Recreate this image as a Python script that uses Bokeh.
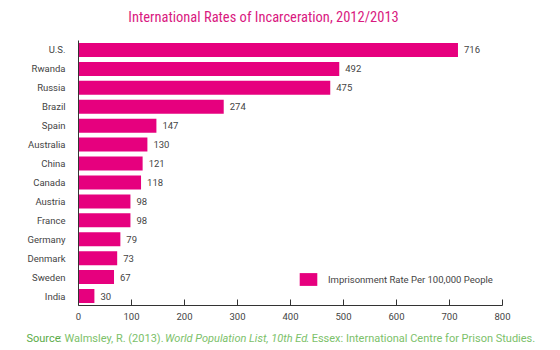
from bokeh.plotting import figure
from bokeh.layouts import column
from bokeh.models import Range1d, FixedTicker, Label, ColumnDataSource, Legend, LegendItem
from bokeh.core.properties import value
from bokeh.embed import file_html
from bokeh.resources import INLINE

countries = ["U.S.", "Rwanda", "Russia", "Brazil", "Spain", "Australia", "China",
             "Canada", "Austria", "France", "Germany", "Denmark", "Sweden", "India"]
rates = [716, 492, 475, 274, 147, 130, 121, 118, 98, 98, 79, 73, 67, 30]
x_ticks = [0, 100, 200, 300, 400, 500, 600, 700, 800]
series_name = "Imprisonment Rate Per 100,000 People"
title_text = "International Rates of Incarceration, 2012/2013"
source_parts = ["Source", ": Walmsley, R. (2013). ", "World Population List, 10th Ed",
                ". Essex: International Centre for Prison Studies."]

PINK = "#E6007E"
FONT = "Roboto"
TITLE_FONT = "'Roboto Condensed', 'Noto Sans Condensed', 'DejaVu Sans Condensed', 'Liberation Sans Narrow', Roboto"
GREEN = "#7cc16a"
TXT = "#444444"
W = 560
FS = "9.5px"


def blank(h):
    f = figure(width=W, height=h, output_backend="svg", toolbar_location=None,
               x_range=Range1d(0, W), y_range=Range1d(0, h),
               x_axis_location=None, y_axis_location=None, min_border=0,
               frame_align=False)
    f.outline_line_color = None
    f.xgrid.visible = False
    f.ygrid.visible = False
    return f


# ---- title strip ----
t = blank(40)
t.add_layout(Label(x=263, y=23, text=title_text, text_align="center",
                   text_baseline="middle", text_font=TITLE_FONT,
                   text_font_size="14.5px", text_color="#D9197F"))

# ---- main chart ----
idx = list(range(len(countries)))
src = ColumnDataSource(dict(y=idx, rate=rates, label=[str(v) for v in rates]))

p = figure(width=W, height=290, output_backend="svg", toolbar_location=None,
           x_range=Range1d(0, 800), y_range=Range1d(len(countries) - 0.5, -0.5),
           min_border_left=78, min_border_right=58, min_border_top=0, min_border_bottom=25,
           frame_align=False)
p.outline_line_color = None
p.xgrid.visible = False
p.ygrid.visible = False

r = p.hbar(y="y", right="rate", left=0, height=0.74, source=src,
           fill_color=PINK, line_color=None)
p.text(x="rate", y="y", text="label", source=src, x_offset=6,
       text_baseline="middle", text_align="left", text_font=value(FONT),
       text_font_size=FS, text_color=TXT)

p.xaxis.ticker = FixedTicker(ticks=x_ticks)
p.xaxis.major_tick_in = 6
p.xaxis.major_tick_out = 0
p.xaxis.minor_tick_line_color = None
p.xaxis.axis_line_color = "#333333"
p.xaxis.major_tick_line_color = "#333333"
p.xaxis.major_label_text_font = FONT
p.xaxis.major_label_text_font_size = FS
p.xaxis.major_label_text_color = TXT
p.xaxis.major_label_standoff = 7

p.yaxis.ticker = FixedTicker(ticks=idx)
p.yaxis.major_label_overrides = {i: c for i, c in zip(idx, countries)}
p.yaxis.major_tick_line_color = None
p.yaxis.minor_tick_line_color = None
p.yaxis.axis_line_color = "#333333"
p.yaxis.major_label_text_font = FONT
p.yaxis.major_label_text_font_size = FS
p.yaxis.major_label_text_color = TXT
p.yaxis.major_label_standoff = 7

legend = Legend(items=[LegendItem(label=series_name, renderers=[r])],
                location=(219, 18), orientation="vertical",
                glyph_width=22, glyph_height=16, label_standoff=9,
                padding=0, margin=0, border_line_color=None,
                background_fill_alpha=0, label_text_font=FONT,
                label_text_font_size=FS, label_text_color=TXT)
p.add_layout(legend, "center")

# ---- source strip ----
s = blank(20)
styles = [("normal", "#5aab48", 26), ("normal", GREEN, 58.5),
          ("italic", GREEN, 164.5), ("normal", GREEN, 305.5)]
for txt, (st, col, xx) in zip(source_parts, styles):
    s.add_layout(Label(x=xx, y=12, text=txt, text_align="left",
                       text_baseline="middle", text_font=FONT,
                       text_font_style=st, text_font_size="11px", text_color=col))

layout = column(t, p, s, spacing=0)
open("out.html", "w").write(file_html(layout, INLINE))
